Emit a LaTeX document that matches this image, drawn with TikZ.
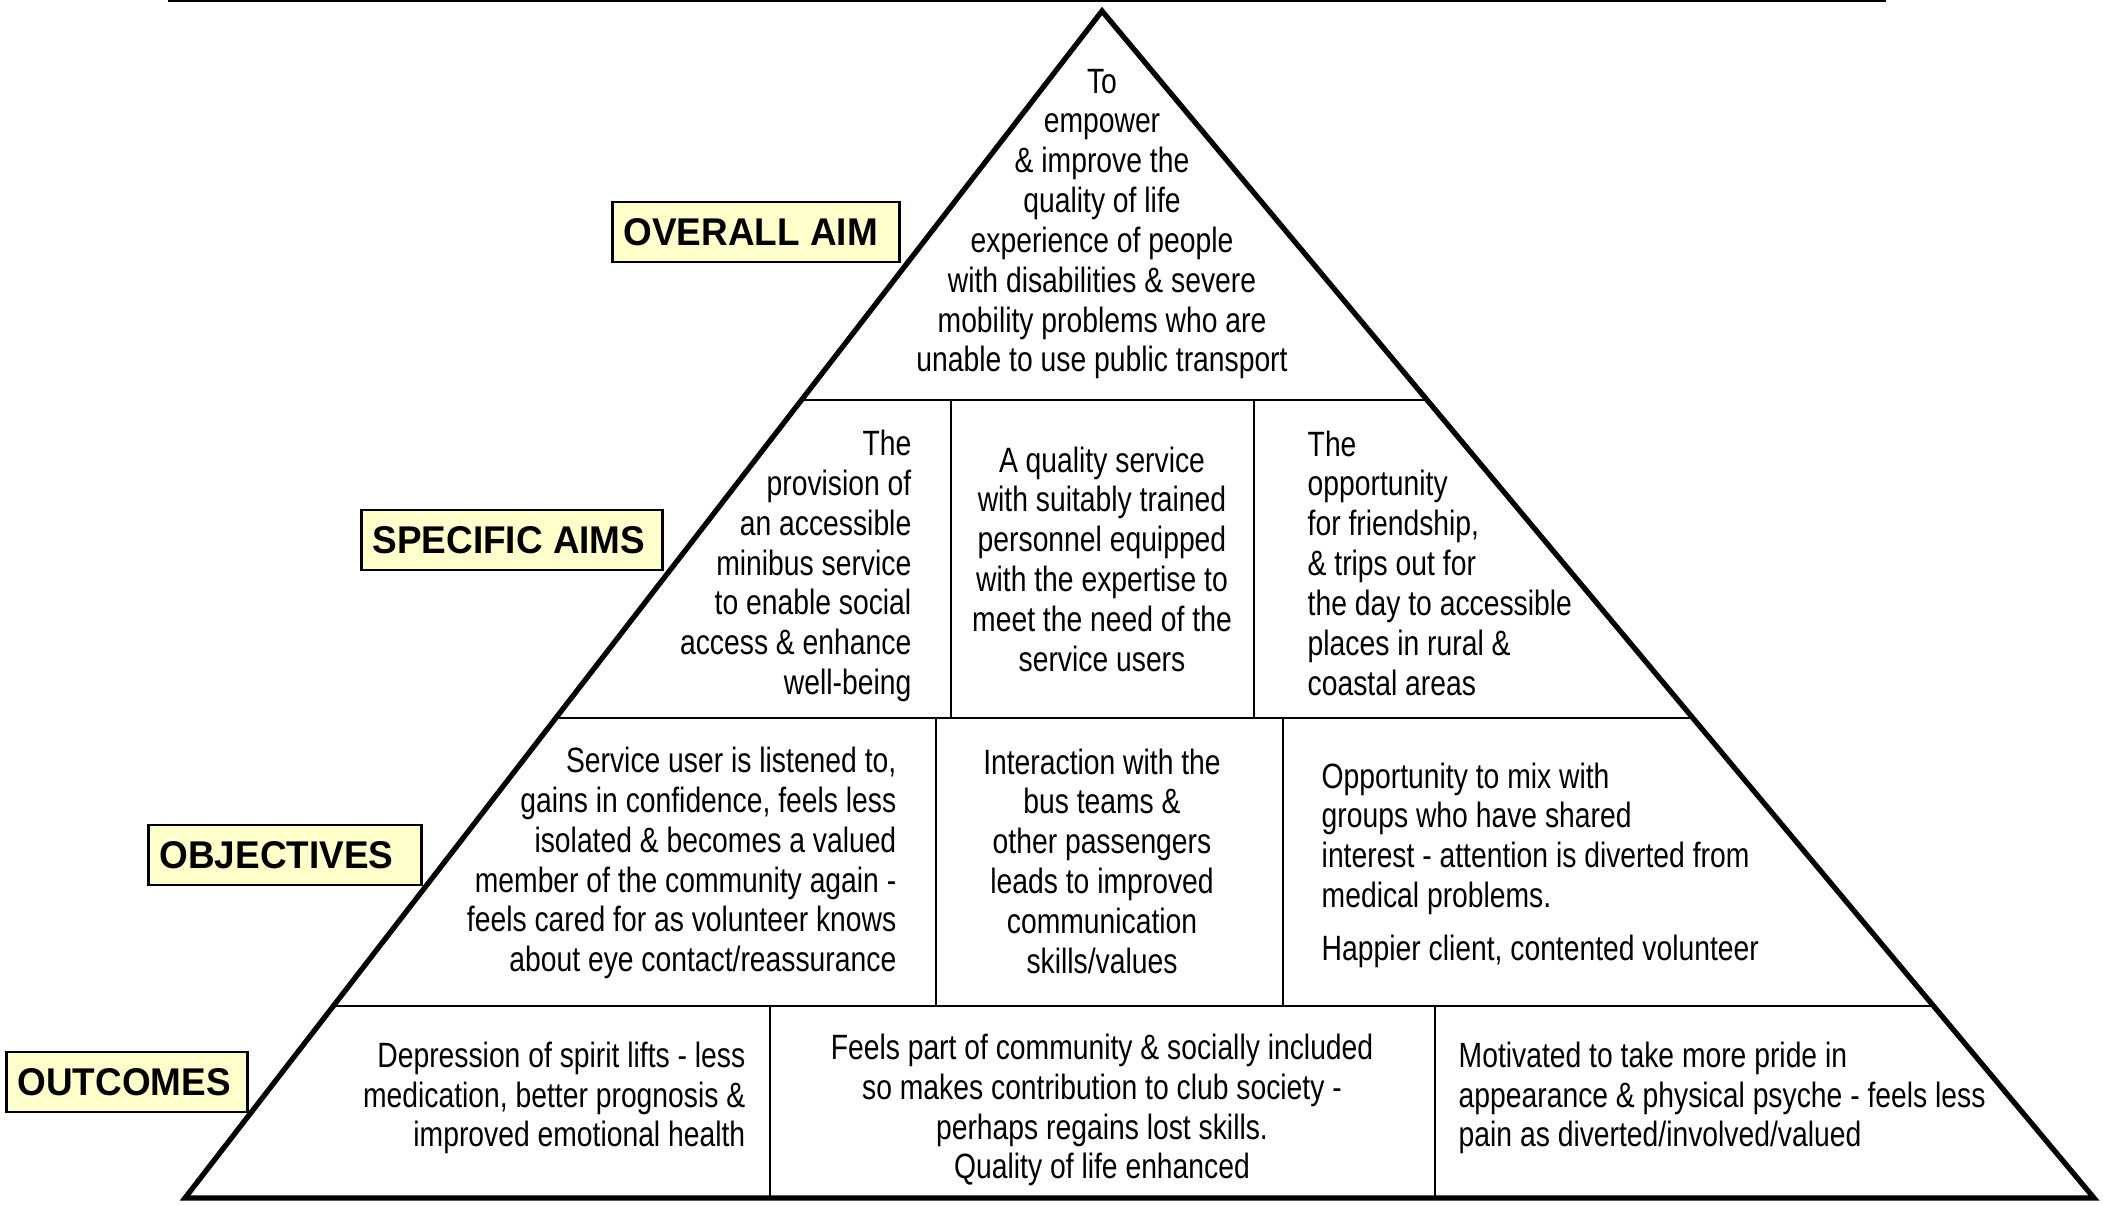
\documentclass[tikz,border=0pt]{standalone}
\usepackage{fontspec}
\setmainfont{Liberation Sans}[FakeStretch=0.805]
\newfontfamily\levelfont{Liberation Sans}[FakeStretch=0.955]
\usetikzlibrary{calc}
\definecolor{levelyellow}{HTML}{FFFFCC}

\begin{document}
\begin{tikzpicture}[x=0.1mm,y=-0.1mm,
        celltext/.style={inner sep=0pt,font=\fontsize{10}{11.33}\selectfont},
        levelbox/.style={draw,line width=0.6pt,fill=levelyellow,minimum height=6mm,
            inner ysep=0pt,inner xsep=1.1mm,text width=#1,align=flush left,
            font=\levelfont\bfseries\fontsize{11}{13}\selectfont},
        tierline/.style={line width=0.8pt},
        cellline/.style={line width=0.55pt}]
    \useasboundingbox (0,0) rectangle (2103,1204);
    \draw[line width=0.45pt] (168,1) -- (1886,1);
    \coordinate (top) at (1102,11);
    \coordinate (bl) at (185,1198);
    \coordinate (br) at (2094,1198);
    \foreach \t in {0.3277,0.5956,0.8382}
        \draw[tierline] ($(top)!\t!(bl)$) -- ($(top)!\t!(br)$);
    \foreach \x/\ya/\yb in {951/400/718,1254/400/718,936/718/1006,1283/718/1006,770/1006/1198,1435/1006/1198}
        \draw[cellline] (\x,\ya) -- (\x,\yb);
    \draw[line width=1.5pt] (top) -- (bl) -- (br) -- cycle;

    \node[celltext,align=center] (aim) at (1102,224) {To\\empower\\\& improve the\\quality of life\\experience of people\\with disabilities \& severe\\mobility problems who are\\unable to use public transport};

    \node[celltext,align=right,anchor=east] (minibus) at (912,566) {The\\provision of\\an accessible\\minibus service\\to enable social\\access \& enhance\\well-being};
    \node[celltext,align=center] (staff) at (1102,559) {A quality service\\with suitably trained\\personnel equipped\\with the expertise to\\meet the need of the\\service users};
    \node[celltext,align=left,anchor=west] (trips) at (1307,563) {The\\opportunity\\for friendship,\\\& trips out for\\the day to accessible\\places in rural \&\\coastal areas};

    \node[celltext,align=right,anchor=east] (listened) at (897,863) {Service user is listened to,\\gains in confidence, feels less\\isolated \& becomes a valued\\member of the community again -\\feels cared for as volunteer knows\\about eye contact/reassurance};
    \node[celltext,align=center] (interaction) at (1102,861) {Interaction with the\\bus teams \&\\other passengers\\leads to improved\\communication\\skills/values};
    \node[celltext,align=left,anchor=west] (mix) at (1321,865) {Opportunity to mix with\\groups who have shared\\interest - attention is diverted from\\medical problems.\\[3.6pt]Happier client, contented volunteer};

    \node[celltext,align=right,anchor=east] (spirit) at (746,1098) {Depression of spirit lifts - less\\medication, better prognosis \&\\improved emotional health};
    \node[celltext,align=center] (community) at (1102,1110) {Feels part of community \& socially included\\so makes contribution to club society -\\perhaps regains lost skills.\\Quality of life enhanced};
    \node[celltext,align=left,anchor=west] (pride) at (1458,1098) {Motivated to take more pride in\\appearance \& physical psyche - feels less\\pain as diverted/involved/valued};

    \node[levelbox=26.5mm] (overall) at (756,232) {OVERALL AIM};
    \node[levelbox=27.9mm] (specific) at (512,540) {SPECIFIC AIMS};
    \node[levelbox=25.1mm] (objectives) at (285,855) {OBJECTIVES};
    \node[levelbox=21.9mm] (outcomes) at (127,1082) {OUTCOMES};
\end{tikzpicture}
\end{document}
